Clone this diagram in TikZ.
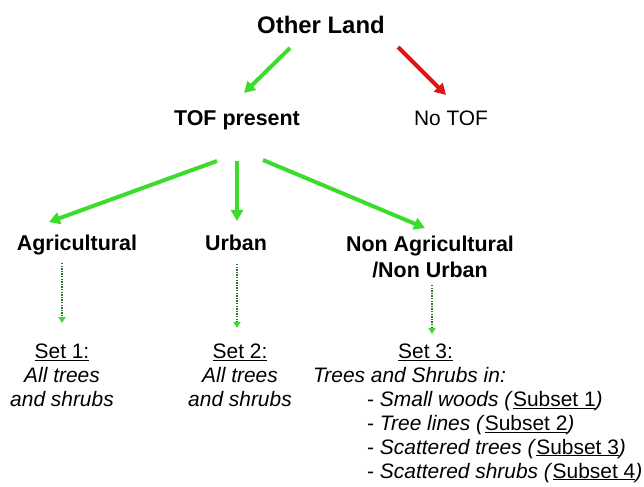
\documentclass[tikz,border=0pt]{standalone}
\usepackage{fontspec}
\setmainfont{Liberation Sans}
\usetikzlibrary{arrows.meta}
\definecolor{tofgreen}{RGB}{60,220,45}
\definecolor{tofred}{RGB}{225,20,20}
\definecolor{dotgreen}{RGB}{40,115,40}
\begin{document}
\begin{tikzpicture}[x=1bp,y=-1bp,
  lbl/.style={inner sep=0pt, anchor=base, font=\fontsize{21}{24}\selectfont},
  head/.style={lbl, font=\fontsize{21.5}{26}\selectfont\bfseries},
  bigarrow/.style={line width=4bp, -{Triangle[length=11bp,width=12bp]}},
  dotarrow/.style={draw=dotgreen, line width=2bp, dash pattern=on 1.3bp off 1.3bp,
    -{Triangle[length=6bp,width=7bp,color=tofgreen]}}]
  \useasboundingbox (0,0) rectangle (644,487);

  \node[head, font=\fontsize{24}{28}\selectfont\bfseries] (land) at (321,34) {Other Land};
  \node[head] (tof) at (237,126) {TOF present};
  \node[lbl] (notof) at (451,126) {No TOF};

  \node[head] (agri) at (77,251) {Agricultural};
  \node[head] (urban) at (236,251) {Urban};
  \node[head, align=center] (nonagri) at (430,277) {Non Agricultural\\/Non Urban};

  \node[lbl, align=center] (set1) at (62,406) {\underline{Set 1:}\\\textit{All trees}\\\textit{and shrubs}};
  \node[lbl, align=center] (set2) at (240,406) {\underline{Set 2:}\\\textit{All trees}\\\textit{and shrubs}};
  \node[lbl, align=left, anchor=base west] (set3) at (313,478) {\hspace*{85bp}\underline{Set 3:}\\
    \textit{Trees and Shrubs in:}\\
    \hspace*{54bp}- \textit{Small woods (}\underline{Subset 1}\textit{)}\\
    \hspace*{54bp}- \textit{Tree lines (}\underline{Subset 2}\textit{)}\\
    \hspace*{54bp}- \textit{Scattered trees (}\underline{Subset 3}\textit{)}\\
    \hspace*{54bp}- \textit{Scattered shrubs (}\underline{Subset 4}\textit{)}};

  \draw[bigarrow, tofgreen] ([shift={(-31,14)}]land.base) -- ([shift={(7,-33)}]tof.base);
  \draw[bigarrow, tofred] ([shift={(77,13)}]land.base) -- ([shift={(-5,-31)}]notof.base);

  \draw[bigarrow, tofgreen] ([shift={(-20,35)}]tof.base) -- ([shift={(-28,-29)}]agri.base);
  \draw[bigarrow, tofgreen] ([shift={(0,35)}]tof.base) -- ([shift={(1,-30)}]urban.base);
  \draw[bigarrow, tofgreen] ([shift={(26,34)}]tof.base) -- ([shift={(-5,-49)}]nonagri.base);

  \draw[dotarrow] ([shift={(-15,12)}]agri.base) -- ([shift={(0,-83)}]set1.base);
  \draw[dotarrow] ([shift={(1,13)}]urban.base) -- ([shift={(-3,-78)}]set2.base);
  \draw[dotarrow] ([shift={(2,8)}]nonagri.base) -- ([shift={(119,-144)}]set3.base west);
\end{tikzpicture}
\end{document}
